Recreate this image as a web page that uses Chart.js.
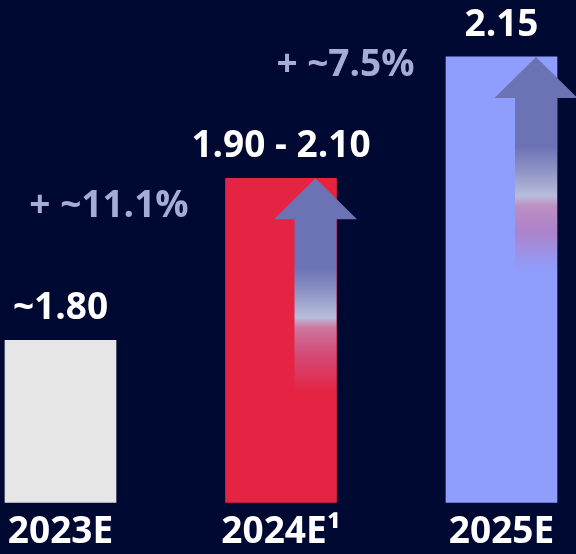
<!DOCTYPE html>
<html>
<head>
<meta charset="utf-8">
<script src="https://cdn.jsdelivr.net/npm/chart.js@4.4.1/dist/chart.umd.min.js"></script>
<style>
  html, body { margin: 0; padding: 0; background: #000932; }
  canvas { display: block; }
</style>
</head>
<body>
<canvas id="c" width="576" height="554"></canvas>
<script>
// ---- data ----
const categories = ['2023E', '2024E\u00B9', '2025E'];
const values = [1.80, 2.10, 2.15];            // 2024E bar drawn to top of range
const valueLabels = ['~1.80', '1.90 - 2.10', '2.15'];
const growthLabels = ['+ ~11.1%', '+ ~7.5%'];  // growth 2023E->2024E, 2024E->2025E

// ---- style ----
const barColors = ['#e6e6e6', '#e52343', '#8f9dfc'];
const axisOf = ['y', 'y', 'y2'];   // reference bars are not drawn to one scale
const FONT = '"Open Sans", "Noto Sans", sans-serif';

const datasets = ['y', 'y2'].map(ax => ({
  data: values.map((v, i) => axisOf[i] === ax ? v : null),
  backgroundColor: barColors,
  yAxisID: ax,
  base: 1.5,
  grouped: false,
  barThickness: 111,
  clip: false,
  borderWidth: 0
}));

function barAt(chart, i) {
  const d = axisOf[i] === 'y' ? 0 : 1;
  return chart.getDatasetMeta(d).data[i];
}

const overlayPlugin = {
  id: 'overlay',
  afterDatasetsDraw(chart) {
    const ctx = chart.ctx;
    ctx.save();
    // growth arrows on 2024E and 2025E bars
    for (let i = 1; i < values.length; i++) {
      const b = barAt(chart, i);
      const right = b.x + b.width / 2;
      const tip = b.y;
      const shaftL = right - 42, cx = right - 21;
      const headBase = tip + 41, len = 214;
      const g = ctx.createLinearGradient(0, tip, 0, tip + len);
      g.addColorStop(0, 'rgba(107,115,181,1)');
      g.addColorStop(0.42, 'rgba(107,115,181,1)');
      g.addColorStop(0.54, 'rgba(145,150,198,1)');
      g.addColorStop(0.65, 'rgba(184,189,220,1)');
      g.addColorStop(0.70, 'rgba(200,140,180,0.8)');
      g.addColorStop(0.82, 'rgba(195,110,165,0.55)');
      g.addColorStop(1, 'rgba(195,110,165,0)');
      ctx.fillStyle = g;
      ctx.beginPath();
      ctx.moveTo(cx, tip);
      ctx.lineTo(cx + 41.5, headBase);
      ctx.lineTo(right, headBase);
      ctx.lineTo(right, tip + len);
      ctx.lineTo(shaftL, tip + len);
      ctx.lineTo(shaftL, headBase);
      ctx.lineTo(cx - 41.5, headBase);
      ctx.closePath();
      ctx.fill();
    }
    // value labels above bars
    ctx.font = 'bold 37px ' + FONT;
    ctx.fillStyle = '#ffffff';
    ctx.textAlign = 'center';
    ctx.textBaseline = 'alphabetic';
    for (let i = 0; i < values.length; i++) {
      const b = barAt(chart, i);
      ctx.fillText(valueLabels[i], b.x, b.y - 21);
    }
    // growth labels
    ctx.fillStyle = '#a5acd6';
    const anchors = [{ x: 109, y: 217 }, { x: 345.5, y: 76 }];
    growthLabels.forEach((t, k) => ctx.fillText(t, anchors[k].x, anchors[k].y));
    ctx.restore();
  }
};

new Chart(document.getElementById('c'), {
  type: 'bar',
  data: { labels: categories, datasets },
  options: {
    responsive: false,
    animation: false,
    devicePixelRatio: 1,
    layout: { padding: { left: 60.5, right: 74.5, top: 0, bottom: -8 } },
    plugins: { legend: { display: false }, tooltip: { enabled: false } },
    scales: {
      x: {
        offset: false,
        grid: { display: false, drawTicks: false },
        border: { display: false },
        ticks: {
          color: '#ffffff',
          padding: 7.6,
          maxRotation: 0,
          autoSkip: false,
          font: { family: FONT, size: 37, weight: 'bold' }
        }
      },
      y: { display: false, min: 1.5, max: 2.43 },
      y2: { display: false, min: 1.5, max: 2.233 }
    }
  },
  plugins: [overlayPlugin]
});
</script>
</body>
</html>
